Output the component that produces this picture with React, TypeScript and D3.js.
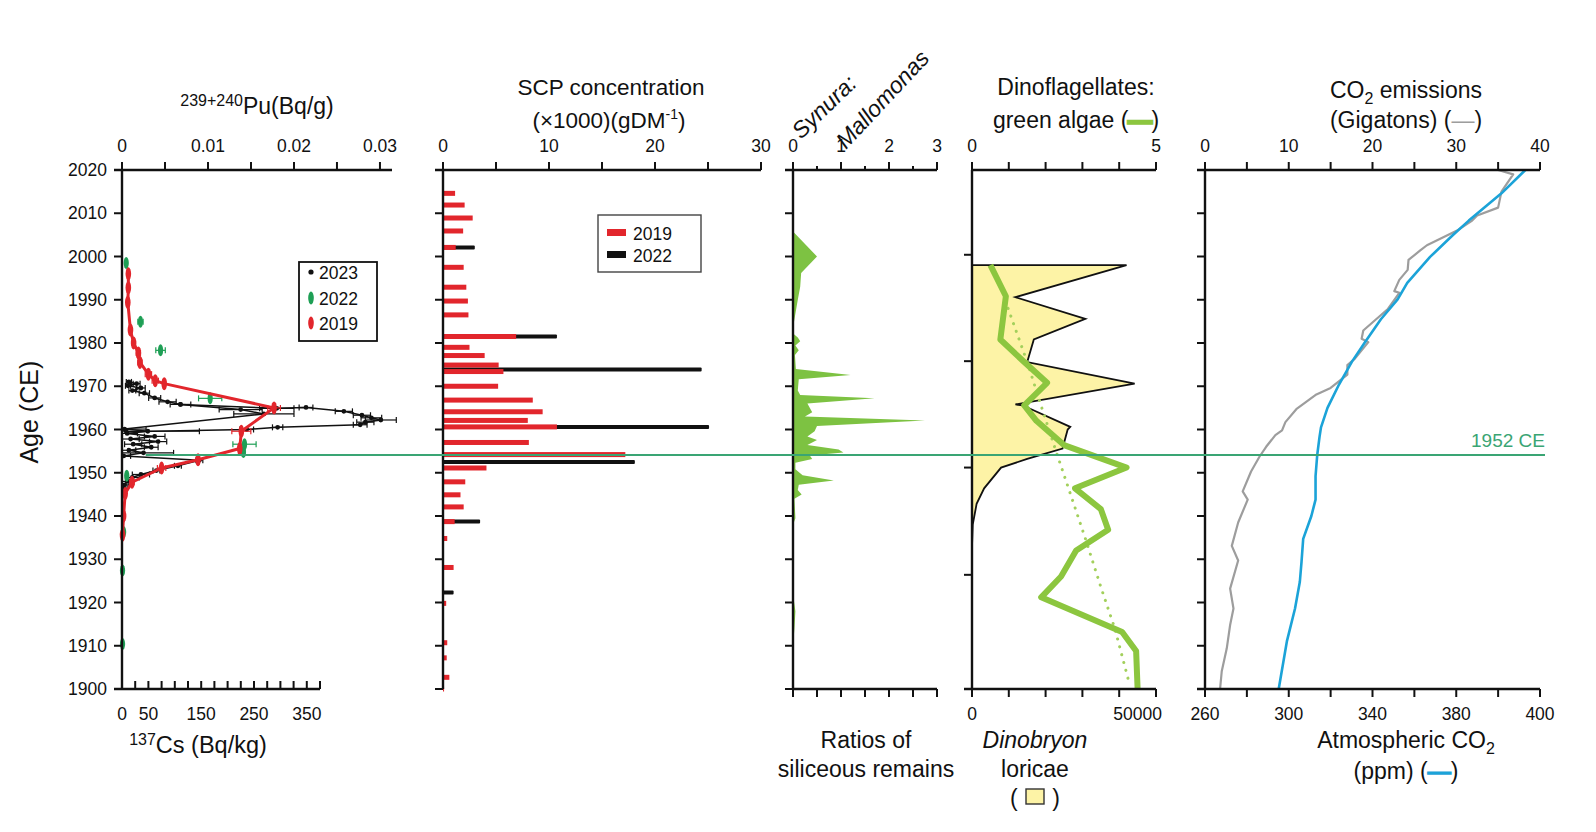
import * as d3 from "d3";

const FONT = "'Liberation Sans', Arial, Helvetica, sans-serif";
const INK = "#111";

// ---------- data ----------
const ageTicks = [1900, 1910, 1920, 1930, 1940, 1950, 1960, 1970, 1980, 1990, 2000, 2010, 2020];
const dinoTicks = [2000.4, 1975.8, 1951.2, 1926.4];
const refYear = 1954.1;
const refLabel = "1952 CE";

// 239+240Pu, 2023 core: [year, Bq/g, ±err]
const pu2023: [number, number, number][] = [
  [1971.0, 0.0008, 0.0003], [1970.6, 0.0017, 0.0004], [1970.1, 0.0007, 0.0003],
  [1969.6, 0.0022, 0.0005], [1969.0, 0.0012, 0.0004], [1968.4, 0.0026, 0.0006],
  [1967.3, 0.0038, 0.0007], [1966.4, 0.0053, 0.001], [1965.8, 0.0068, 0.0012],
  [1964.6, 0.0138, 0.0025], [1963.6, 0.0165, 0.0035], [1960.1, 0.0003, 0.0025],
  [1959.6, 0.003, 0.006], [1959.1, 0.0006, 0.0012], [1958.4, 0.0038, 0.0012],
  [1957.8, 0.001, 0.001], [1957.2, 0.0042, 0.001], [1956.6, 0.0013, 0.001],
  [1955.9, 0.0034, 0.0008], [1955.2, 0.0008, 0.0008], [1954.6, 0.0025, 0.0035],
  [1953.9, 0.0002, 0.0008], [1952.9, 0.009, 0.0004], [1951.6, 0.0065, 0.0004],
  [1950.5, 0.004, 0.0004], [1949.6, 0.0022, 0.001], [1948.9, 0.0012, 0.0008],
  [1948.0, 0.0006, 0.0006], [1947.2, 0.0003, 0.0005], [1946.4, 0.0002, 0.0004],
];
const pu2023Peak: [number, number, number][] = [
  [1965.8, 0.0068, 0], [1964.9, 0.018, 0.002], [1965.1, 0.0214, 0.0008],
  [1964.2, 0.0258, 0.001], [1963.3, 0.0279, 0.001], [1962.7, 0.029, 0.0012],
  [1962.2, 0.0301, 0.0018], [1961.7, 0.0283, 0.001], [1961.1, 0.0277, 0.0008],
  [1960.5, 0.0181, 0.0006], [1960.0, 0.0145, 0.0008], [1959.5, 0.0005, 0],
];
// 137Cs: [year, Bq/kg, ±err]
const cs2019: [number, number, number][] = [
  [1996.0, 12, 0], [1992.8, 12, 0], [1989.4, 11, 0], [1983.0, 16, 3], [1980.0, 22, 3],
  [1977.7, 31, 4], [1975.5, 34, 4], [1972.8, 50, 6], [1971.3, 63, 6], [1970.6, 80, 0],
  [1965.0, 288, 12], [1959.6, 226, 18], [1955.6, 223, 0], [1953.0, 144, 0],
  [1951.1, 75, 8], [1947.8, 19, 4], [1945.2, 6, 2], [1940.0, 3, 0], [1935.6, 1, 2],
];
const cs2022: [number, number, number][] = [
  [1998.5, 8, 0], [1984.9, 35, 5], [1978.3, 73, 9], [1967.2, 167, 22], [1956.6, 232, 22],
  [1954.8, 230, 0], [1949.3, 9, 0], [1936.3, 3, 0], [1927.4, 1, 0], [1910.4, 1, 0],
];

// SCP concentration (x1000 gDM-1): [year, value]
const scp2019: [number, number][] = [
  [2014.6, 1.14], [2011.9, 2.04], [2008.9, 2.8], [2005.9, 1.9], [2002.1, 1.2], [1997.5, 1.95],
  [1992.9, 2.2], [1989.7, 2.35], [1986.5, 2.4], [1981.5, 6.9], [1979.0, 2.5], [1977.1, 3.93],
  [1974.9, 5.25], [1973.4, 5.7], [1970.0, 5.2], [1966.8, 8.47], [1964.1, 9.4], [1962.1, 8.0],
  [1960.6, 10.75], [1957.0, 8.1], [1954.2, 17.2], [1951.1, 4.1], [1947.9, 2.1], [1944.9, 1.65],
  [1942.1, 1.95], [1938.7, 1.1], [1934.8, 0.4], [1928.1, 1.0], [1919.8, 0.3], [1910.7, 0.4],
  [1907.2, 0.35], [1902.7, 0.6], [1900.0, 0.1],
];
const scp2022: [number, number][] = [
  [2002.1, 3.0], [1981.5, 10.75], [1973.9, 24.4], [1960.6, 25.1], [1952.5, 18.1],
  [1938.7, 3.5], [1922.3, 1.0],
];

// Synura : Mallomonas ratio
const synura: [number, number][] = [
  [2005.8, 0], [2000, 0.5], [1996.2, 0.17], [1993, 0.15], [1990, 0.1], [1985.5, 0.03],
  [1983.5, 0], [1982, 0.02], [1981.3, 0.1], [1980.4, 0.15], [1979.4, 0.05], [1978.3, 0.12],
  [1977.2, 0.04], [1974, 0.06], [1972.6, 1.2], [1971.6, 0.12], [1969, 0.1], [1968, 0.15],
  [1967.2, 1.7], [1966, 0.3], [1964, 0.4], [1963, 0.25], [1962.1, 2.75], [1960.8, 0.5],
  [1959.6, 0.45], [1958.4, 0.3], [1957.6, 0.5], [1956.4, 0.3], [1955.4, 0.95], [1954.7, 1.05],
  [1954, 0.35], [1953.2, 0.4], [1952.3, 0.05], [1950.8, 0.05], [1949.4, 0.2], [1948.2, 0.85],
  [1947.2, 0.12], [1946, 0.1], [1945, 0.18], [1944, 0.03], [1939.5, 0.05], [1938, 0],
  [1922, 0], [1918, 0.05], [1914, 0.03], [1910, 0], [1900, 0],
];

// Dinobryon loricae and dinoflagellates : green algae
const loricae: [number, number][] = [
  [1998, 0], [1998, 42000], [1990.6, 11800], [1985.6, 30800], [1980.8, 16800], [1975.6, 15000],
  [1970.6, 44200], [1965.8, 11800], [1965.6, 13700], [1960.6, 26700], [1960, 26000],
  [1955.6, 24600], [1953.2, 15000], [1951.2, 7900], [1946.4, 3300], [1942.8, 1250],
  [1938, 200], [1933, 0],
];
const dinoGreen: [number, number][] = [
  [1998, 0.5], [1990.8, 0.92], [1980.8, 0.77], [1975.6, 1.42], [1970.8, 2.04], [1965.6, 1.42],
  [1962, 1.75], [1956.4, 2.5], [1951.2, 4.2], [1946.4, 2.8], [1941.6, 3.5], [1936.8, 3.7],
  [1932, 2.83], [1926, 2.42], [1921.2, 1.88], [1913.2, 4.08], [1908.8, 4.46], [1900, 4.5],
];
const dinoTrend: [number, number][] = [
  [1988, 0.98], [1975.6, 1.5], [1964.4, 1.92], [1954.8, 2.29], [1945.2, 2.67],
  [1934.8, 3.08], [1923.6, 3.5], [1914, 3.88], [1900.8, 4.29],
];

// CO2 emissions (Gt) and atmospheric CO2 (ppm)
const emissions: [number, number][] = [
  [2020, 35.0], [2019, 36.8], [2015, 35.4], [2011.3, 35.0], [2009.5, 32.5], [2008.3, 31.9],
  [2006, 30.1], [2002.6, 26.5], [2001.4, 25.7], [1999.2, 24.3], [1996.9, 24.2], [1994.6, 23.2],
  [1992, 22.6], [1991.6, 23.2], [1987.8, 21.8], [1982.9, 18.9], [1981, 18.7], [1980.2, 19.5],
  [1976.4, 17.9], [1974.9, 17.0], [1972.7, 17.0], [1969.6, 15.0], [1968.1, 13.3], [1964.7, 10.9],
  [1961.7, 9.6], [1959.8, 9.2], [1958.7, 8.4], [1956, 7.3], [1953.7, 6.5], [1950.3, 5.5],
  [1945.7, 4.5], [1943.8, 5.1], [1938.5, 3.96], [1933.1, 3.2], [1929.7, 3.96], [1923.2, 3.0],
  [1918.6, 3.4], [1914.8, 3.0], [1909.4, 2.6], [1904.1, 2.0], [1900, 1.8],
];
const co2ppm: [number, number][] = [
  [2020, 413], [2014.6, 401.6], [2008.3, 386], [2004.9, 378.3], [1999.9, 367.5],
  [1993.9, 356.6], [1990.1, 352], [1985.5, 344], [1980.2, 336.4], [1975.7, 330.2],
  [1970.4, 324], [1965, 318.5], [1960.5, 315.4], [1958.3, 314.7], [1954.1, 313.6],
  [1949.2, 312.8], [1943.8, 312.8], [1940, 310.8], [1934.7, 306.9], [1929.4, 306.1],
  [1924.8, 305.3], [1918.6, 303], [1911, 299.1], [1900, 295.2],
];

// axis ticks and labels
const puTicks = [0, 0.005, 0.01, 0.015, 0.02, 0.025, 0.03];
const puLabels: [number, string][] = [[0, "0"], [0.01, "0.01"], [0.02, "0.02"], [0.03, "0.03"]];
const csTicks = [0, 25, 50, 75, 100, 125, 150, 175, 200, 225, 250, 275, 300, 325, 350, 375];
const csLabels: [number, string][] = [[0, "0"], [50, "50"], [150, "150"], [250, "250"], [350, "350"]];
const scpTicks = [0, 5, 10, 15, 20, 25, 30];
const scpLabels: [number, string][] = [[0, "0"], [10, "10"], [20, "20"], [30, "30"]];
const synMajor = [0, 1, 2, 3];
const synMinor = [0.5, 1.5, 2.5];
const synBottom = [0, 0.5, 1, 1.5, 2, 2.5, 3];
const dinoTopTicks = [0, 1, 2, 3, 4, 5];
const dinoTopLabels: [number, string][] = [[0, "0"], [5, "5"]];
const lorTicks = [0, 10000, 20000, 30000, 40000, 50000];
const emTicks = [0, 5, 10, 15, 20, 25, 30, 35, 40];
const emLabels: [number, string][] = [[0, "0"], [10, "10"], [20, "20"], [30, "30"], [40, "40"]];
const co2Ticks = [260, 280, 300, 320, 340, 360, 380, 400, 420];
const co2Labels: [number, string][] = [[260, "260"], [300, "300"], [340, "340"], [380, "380"], [420, "400"]];

// ---------- scales ----------
const TOP = 170, BOT = 689;
const y = d3.scaleLinear().domain([1900, 2020]).range([BOT, TOP]);
const puX = d3.scaleLinear().domain([0, 0.0314]).range([122, 392]);
const csX = d3.scaleLinear().domain([0, 375]).range([122, 320]);
const scpX = d3.scaleLinear().domain([0, 30]).range([443, 761]);
const synX = d3.scaleLinear().domain([0, 3]).range([793, 937]);
const dinoX = d3.scaleLinear().domain([0, 5]).range([972, 1156]);
const lorX = d3.scaleLinear().domain([0, 50000]).range([972, 1156]);
const emX = d3.scaleLinear().domain([0, 40]).range([1205, 1540]);
const co2X = d3.scaleLinear().domain([260, 420]).range([1205, 1540]);

const C = {
  red: "#e2262c", green: "#1e9f55", ref: "#3aa574", syn: "#7dc242", algae: "#8cc63f",
  trend: "#a3d05c", yellow: "#fdf3a6", gray: "#9d9d9d", blue: "#1ba3d8",
};

type S = d3.ScaleLinear<number, number>;

function YAxis({ x, ticks }: { x: number; ticks: number[] }) {
  return (
    <g>
      <line x1={x} x2={x} y1={TOP} y2={BOT} stroke={INK} strokeWidth={2.4} />
      {ticks.map((t) => (
        <line key={t} x1={x - 8} x2={x} y1={y(t)} y2={y(t)} stroke={INK} strokeWidth={2} />
      ))}
    </g>
  );
}

function HAxis({ scale, at, from, ticks, minor = [], dir, labels = [], labelY }: {
  scale: S; at: number; from: number; ticks: number[]; minor?: number[]; dir: number;
  labels?: [number, string][]; labelY?: number;
}) {
  const end = scale.range()[1];
  return (
    <g>
      <line x1={from} x2={end} y1={at} y2={at} stroke={INK} strokeWidth={2.4} />
      {ticks.map((t) => (
        <line key={t} x1={scale(t)} x2={scale(t)} y1={at} y2={at + dir * 8} stroke={INK} strokeWidth={2} />
      ))}
      {minor.map((t) => (
        <line key={"m" + t} x1={scale(t)} x2={scale(t)} y1={at} y2={at + dir * 4} stroke={INK} strokeWidth={2} />
      ))}
      {labels.map(([v, s]) => (
        <text key={s} x={scale(v)} y={labelY} textAnchor="middle" fontSize={17.5} fill={INK}>{s}</text>
      ))}
    </g>
  );
}

function ErrBar({ x1, x2, cy, color, w = 1.2 }: { x1: number; x2: number; cy: number; color: string; w?: number }) {
  if (x2 - x1 < 1) return null;
  return (
    <g stroke={color} strokeWidth={w}>
      <line x1={x1} x2={x2} y1={cy} y2={cy} />
      <line x1={x1} x2={x1} y1={cy - 3} y2={cy + 3} />
      <line x1={x2} x2={x2} y1={cy - 3} y2={cy + 3} />
    </g>
  );
}

function App() {
  const puLine = d3.line<[number, number, number]>().x((d) => puX(d[1])).y((d) => y(d[0]));
  const csLine = d3.line<[number, number, number]>().x((d) => csX(d[1])).y((d) => y(d[0]));
  const synArea = d3.area<[number, number]>().y((d) => y(d[0])).x0(synX(0)).x1((d) => synX(d[1]));
  const lorLine = d3.line<[number, number]>().x((d) => lorX(d[1])).y((d) => y(d[0]));
  const dinoLine = d3.line<[number, number]>().x((d) => dinoX(d[1])).y((d) => y(d[0]));
  const emLine = d3.line<[number, number]>().x((d) => emX(d[1])).y((d) => y(d[0]));
  const co2Line = d3.line<[number, number]>().x((d) => co2X(d[1])).y((d) => y(d[0]));
  const lorFill = [...loricae, [1900, 0] as [number, number]];

  return (
    <div style={{ position: "absolute", left: 0, top: 0 }}>
      <svg width={1596} height={832} fontFamily={FONT} style={{ display: "block", background: "#fff" }}>
        {/* ===== panel 1: Pu / Cs ===== */}
        <text x={257} y={114} textAnchor="middle" fontSize={23} fill={INK}>
          <tspan fontSize={16} dy={-8}>239+240</tspan><tspan dy={8}>Pu(Bq/g)</tspan>
        </text>
        <text transform={`translate(38,${y(1964)}) rotate(-90)`} textAnchor="middle" fontSize={25} fill={INK}>Age (CE)</text>
        {ageTicks.map((t) => (
          <text key={t} x={107} y={y(t) + 6} textAnchor="end" fontSize={17.5} fill={INK}>{t}</text>
        ))}

        {/* 2023 Pu profile */}
        <g>
          {[...pu2023, ...pu2023Peak].map((d, i) => (
            <ErrBar key={i} x1={puX(Math.max(0, d[1] - d[2]))} x2={puX(d[1] + d[2])} cy={y(d[0])} color={INK} />
          ))}
          <path d={puLine(pu2023) ?? ""} fill="none" stroke={INK} strokeWidth={1.5} />
          <path d={puLine(pu2023Peak) ?? ""} fill="none" stroke={INK} strokeWidth={1.5} />
          {[...pu2023, ...pu2023Peak].map((d, i) => (
            <circle key={i} cx={puX(d[1])} cy={y(d[0])} r={2.4} fill={INK} />
          ))}
        </g>
        {/* 2022 Cs */}
        <g>
          {cs2022.map((d, i) => (
            <ErrBar key={i} x1={csX(d[1] - d[2])} x2={csX(d[1] + d[2])} cy={y(d[0])} color={C.green} />
          ))}
          <line x1={csX(cs2022[4][1])} x2={csX(cs2022[4][1])} y1={y(cs2022[4][0])} y2={y(refYear)} stroke={C.green} strokeWidth={2} />
          {cs2022.map((d, i) => (
            <ellipse key={i} cx={csX(d[1])} cy={y(d[0])} rx={2.6} ry={6} fill={C.green} />
          ))}
        </g>
        {/* 2019 Cs */}
        <g>
          {cs2019.map((d, i) => (
            <ErrBar key={i} x1={csX(d[1] - d[2])} x2={csX(d[1] + d[2])} cy={y(d[0])} color={C.red} />
          ))}
          <path d={csLine(cs2019) ?? ""} fill="none" stroke={C.red} strokeWidth={3} strokeLinejoin="round" />
          {cs2019.map((d, i) => (
            <ellipse key={i} cx={csX(d[1])} cy={y(d[0])} rx={2.8} ry={6.5} fill={C.red} />
          ))}
        </g>
        <YAxis x={122} ticks={ageTicks} />
        <HAxis scale={puX} at={TOP} from={114} ticks={puTicks} dir={-1} labels={puLabels} labelY={152} />
        <HAxis scale={csX} at={BOT} from={114} ticks={csTicks} dir={-1} labels={csLabels} labelY={720} />
        <text x={198} y={753} textAnchor="middle" fontSize={23.5} fill={INK}>
          <tspan fontSize={16} dy={-8}>137</tspan><tspan dy={8}>Cs (Bq/kg)</tspan>
        </text>
        {/* legend */}
        <g>
          <rect x={299} y={262} width={78} height={79} fill="#fff" stroke={INK} strokeWidth={1.8} />
          <circle cx={311} cy={272} r={2.6} fill={INK} />
          <ellipse cx={311} cy={298} rx={2.8} ry={6.5} fill={C.green} />
          <ellipse cx={311} cy={323} rx={2.8} ry={6.5} fill={C.red} />
          <text x={319} y={279} fontSize={17.5} fill={INK}>2023</text>
          <text x={319} y={305} fontSize={17.5} fill={INK}>2022</text>
          <text x={319} y={330} fontSize={17.5} fill={INK}>2019</text>
        </g>

        {/* ===== panel 2: SCP ===== */}
        <text x={611} y={95} textAnchor="middle" fontSize={22.5} fill={INK}>SCP concentration</text>
        <text x={609} y={128} textAnchor="middle" fontSize={22.5} fill={INK}>
          (×1000)(gDM<tspan fontSize={14} dy={-9}>-1</tspan><tspan dy={9}>)</tspan>
        </text>
        {scp2022.map(([yr, v]) => (
          <rect key={"b" + yr} x={scpX(0)} y={y(yr) - 2} width={scpX(v) - scpX(0)} height={4} fill={INK} rx={1} />
        ))}
        {scp2019.map(([yr, v]) => (
          <rect key={"r" + yr} x={scpX(0)} y={y(yr) - 2.5} width={scpX(v) - scpX(0)} height={5} fill={C.red} />
        ))}
        <YAxis x={443} ticks={ageTicks} />
        <HAxis scale={scpX} at={TOP} from={435} ticks={scpTicks} dir={-1} labels={scpLabels} labelY={152} />
        <g>
          <rect x={598} y={215} width={103} height={57} fill="#fff" stroke="#444" strokeWidth={1.4} />
          <rect x={607} y={229} width={19} height={7} fill={C.red} />
          <rect x={607} y={251} width={19} height={7} fill={INK} />
          <text x={633} y={240} fontSize={17.5} fill={INK}>2019</text>
          <text x={633} y={262} fontSize={17.5} fill={INK}>2022</text>
        </g>

        {/* ===== panel 3: Synura:Mallomonas ===== */}
        <text transform="translate(801,140) rotate(-44)" fontSize={23} fontStyle="italic" fill={INK}>Synura:</text>
        <text transform="translate(846,150) rotate(-47)" fontSize={23} fontStyle="italic" fill={INK}>Mallomonas</text>
        <path d={synArea(synura) ?? ""} fill={C.syn} />
        <YAxis x={793} ticks={ageTicks} />
        <HAxis scale={synX} at={TOP} from={785} ticks={synMajor} minor={synMinor} dir={-1}
          labels={synMajor.map((v) => [v, String(v)] as [number, string])} labelY={152} />
        <HAxis scale={synX} at={BOT} from={793} ticks={synBottom} dir={1} />
        <text x={866} y={748} textAnchor="middle" fontSize={23} fill={INK}>Ratios of</text>
        <text x={866} y={777} textAnchor="middle" fontSize={23} fill={INK}>siliceous remains</text>

        {/* ===== panel 4: Dinobryon / dinoflagellates ===== */}
        <text x={1076} y={95} textAnchor="middle" fontSize={23} fill={INK}>Dinoflagellates:</text>
        <text x={1076} y={128} textAnchor="middle" fontSize={23} fill={INK}>
          green algae (<tspan fill={C.algae} stroke={C.algae} strokeWidth={3.5}>—</tspan>)
        </text>
        <path d={(lorLine(lorFill) ?? "") + "Z"} fill={C.yellow} stroke="none" />
        <path d={lorLine(loricae) ?? ""} fill="none" stroke={INK} strokeWidth={1.8} strokeLinejoin="miter" />
        <path d={dinoLine(dinoTrend) ?? ""} fill="none" stroke={C.trend} strokeWidth={3} strokeDasharray="0.1 8" strokeLinecap="round" />
        <path d={dinoLine(dinoGreen) ?? ""} fill="none" stroke={C.algae} strokeWidth={6} strokeLinejoin="round" />
        <YAxis x={972} ticks={dinoTicks} />
        <HAxis scale={dinoX} at={TOP} from={972} ticks={dinoTopTicks} dir={-1} labels={dinoTopLabels} labelY={152} />
        <HAxis scale={lorX} at={BOT} from={964} ticks={lorTicks} dir={1} />
        <text x={lorX(0)} y={720} textAnchor="middle" fontSize={17.5} fill={INK}>0</text>
        <text x={lorX(50000) + 6} y={720} textAnchor="end" fontSize={17.5} fill={INK}>50000</text>
        <text x={1035} y={748} textAnchor="middle" fontSize={23} fontStyle="italic" fill={INK}>Dinobryon</text>
        <text x={1035} y={777} textAnchor="middle" fontSize={23} fill={INK}>loricae</text>
        <text x={1035} y={806} textAnchor="middle" fontSize={23} fill={INK}>(&#x2002;&#x2002;&#x2002;)</text>
        <rect x={1026} y={789} width={18} height={15} fill={C.yellow} stroke="#333" strokeWidth={1.4} />

        {/* ===== panel 5: CO2 ===== */}
        <text x={1406} y={98} textAnchor="middle" fontSize={23} fill={INK}>
          CO<tspan fontSize={16} dy={6}>2</tspan><tspan dy={-6}> emissions</tspan>
        </text>
        <text x={1406} y={128} textAnchor="middle" fontSize={23} fill={INK}>
          (Gigatons) (<tspan fill={C.gray}>—</tspan>)
        </text>
        <path d={emLine(emissions) ?? ""} fill="none" stroke={C.gray} strokeWidth={2.2} strokeLinejoin="round" />
        <path d={co2Line(co2ppm) ?? ""} fill="none" stroke={C.blue} strokeWidth={2.6} strokeLinejoin="round" />
        <YAxis x={1205} ticks={ageTicks} />
        <HAxis scale={emX} at={TOP} from={1197} ticks={emTicks} dir={-1} labels={emLabels} labelY={152} />
        <HAxis scale={co2X} at={BOT} from={1197} ticks={co2Ticks} dir={1} labels={co2Labels} labelY={720} />
        <text x={1406} y={748} textAnchor="middle" fontSize={23} fill={INK}>
          Atmospheric CO<tspan fontSize={16} dy={6}>2</tspan>
        </text>
        <text x={1406} y={779} textAnchor="middle" fontSize={23} fill={INK}>
          (ppm) (<tspan fill={C.blue} stroke={C.blue} strokeWidth={1.6}>—</tspan>)
        </text>

        {/* ===== 1952 CE marker ===== */}
        <line x1={csX(45)} x2={1545} y1={y(refYear)} y2={y(refYear)} stroke={C.ref} strokeWidth={2} />
        <text x={1545} y={y(refYear) - 8} textAnchor="end" fontSize={19} fill={C.ref}>{refLabel}</text>
      </svg>
    </div>
  );
}

export default App;
